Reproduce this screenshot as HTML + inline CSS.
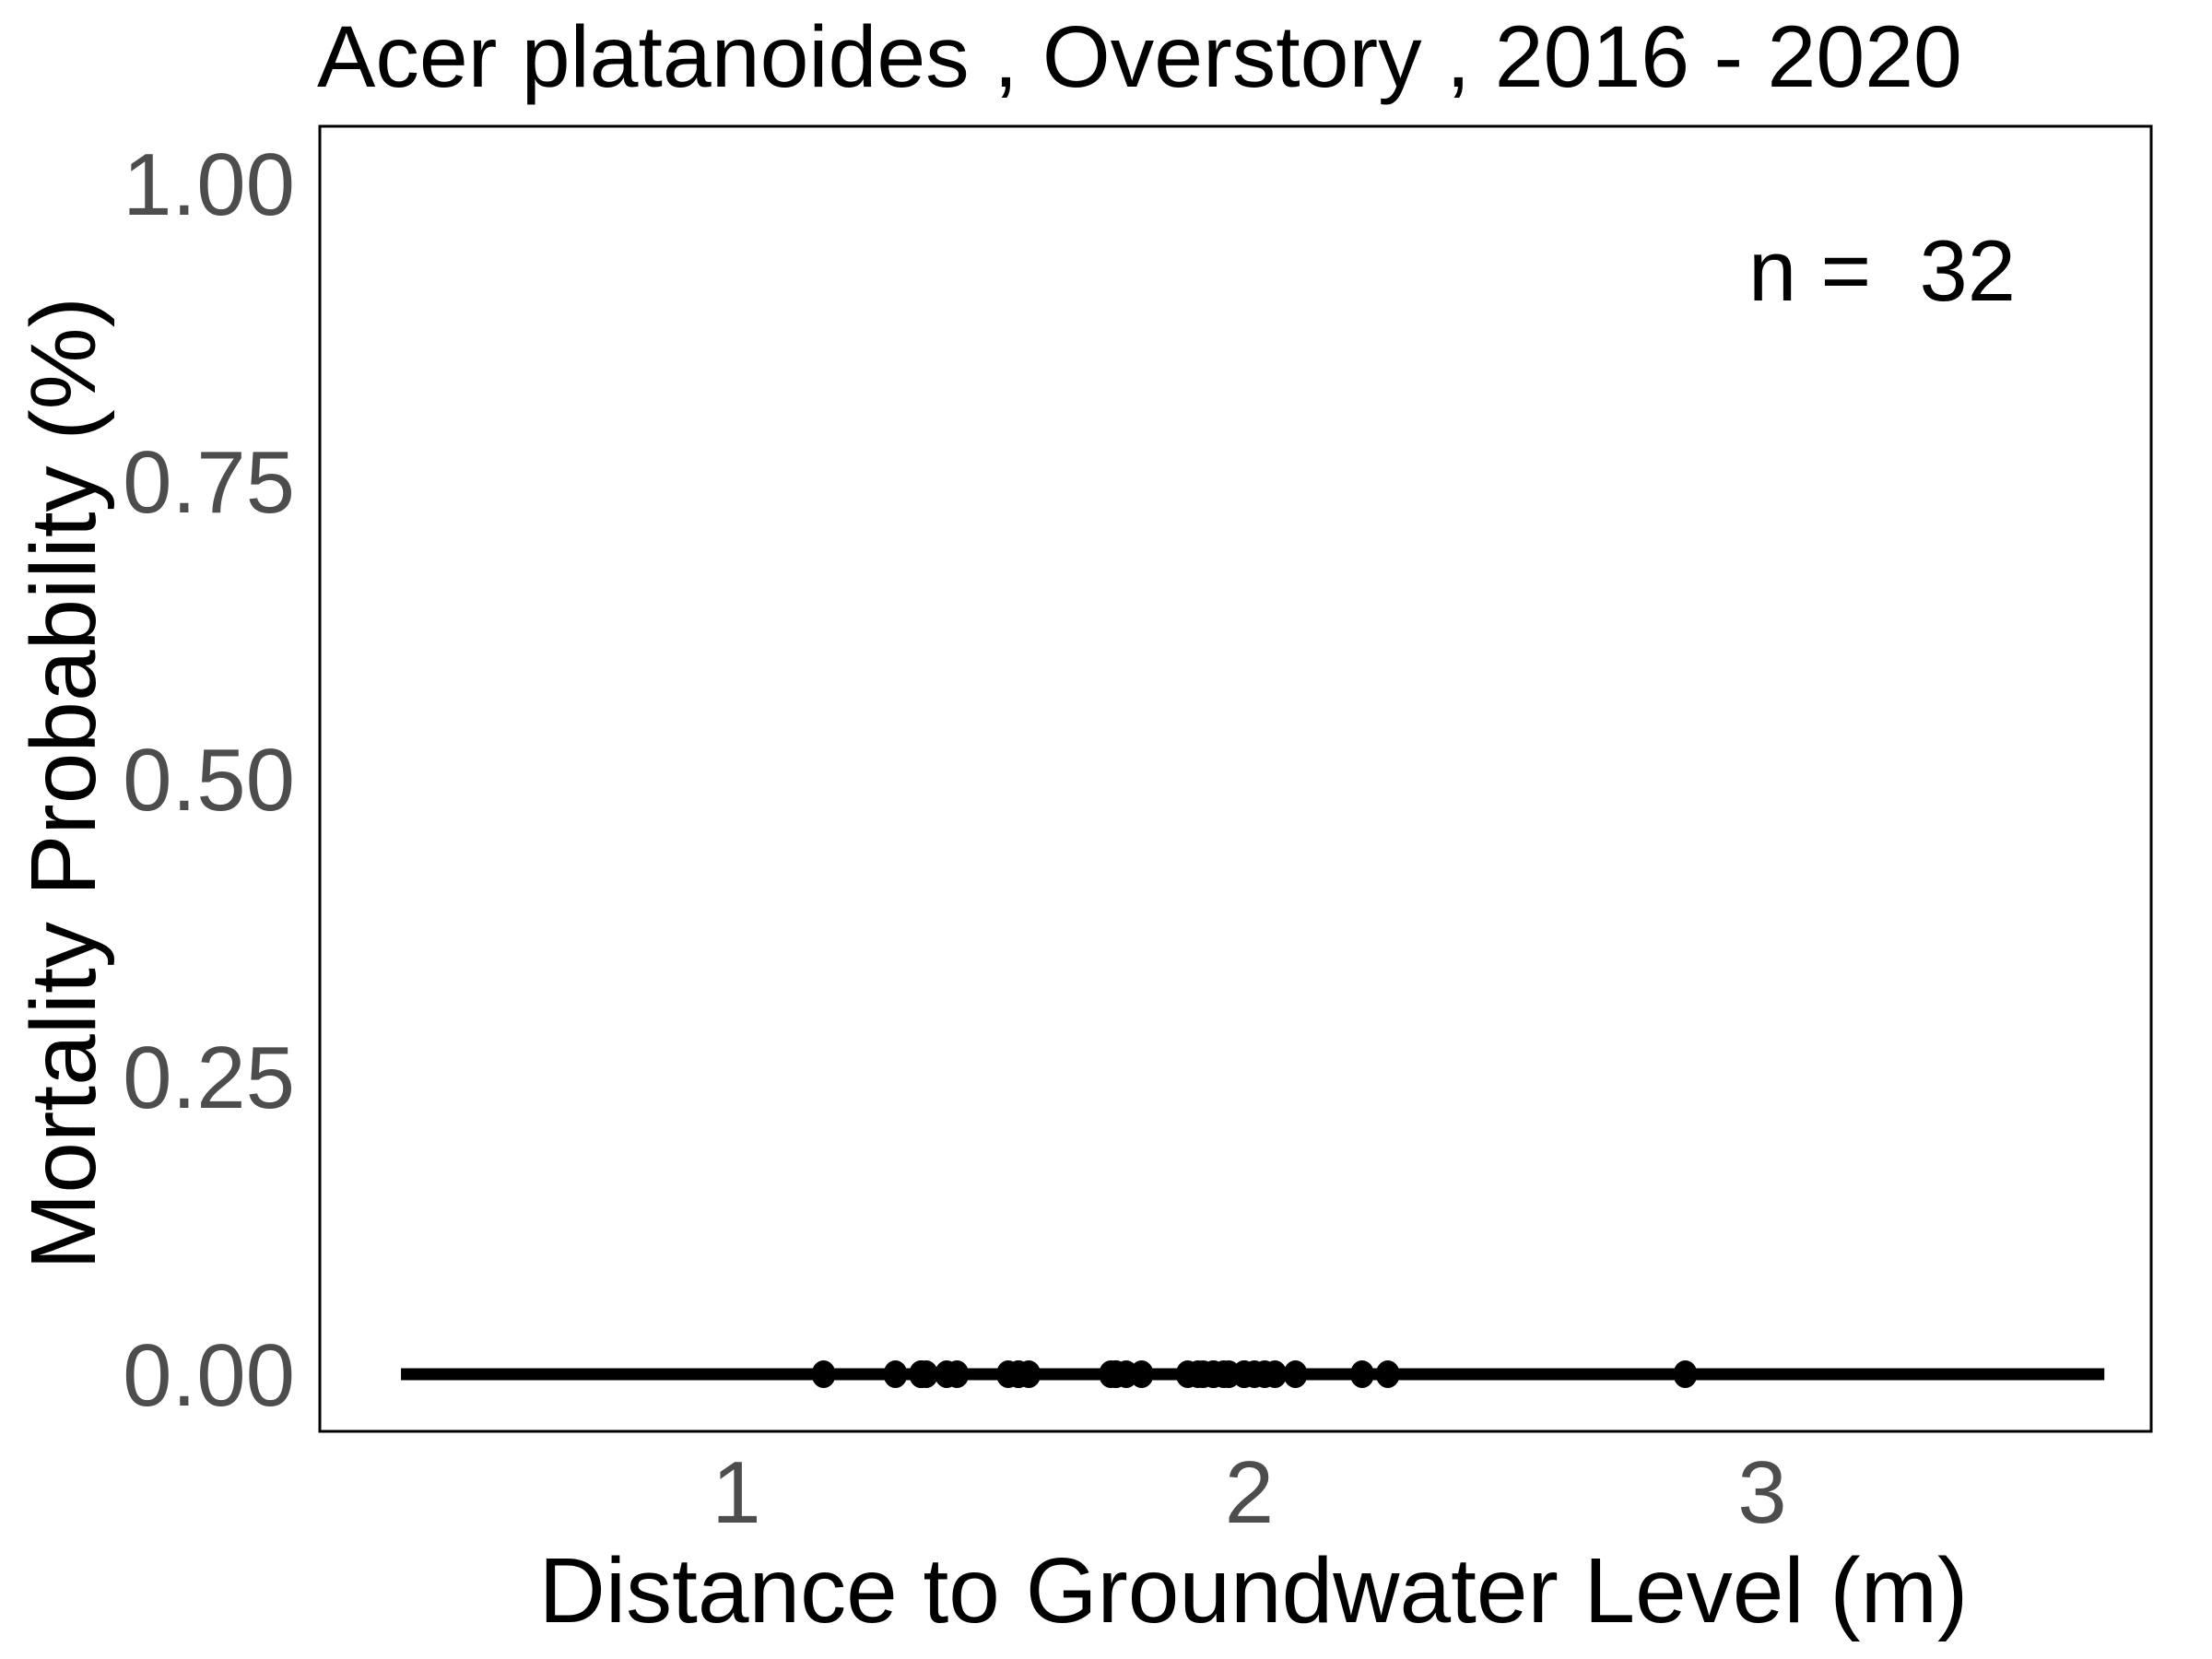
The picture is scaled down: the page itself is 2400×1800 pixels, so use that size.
<!DOCTYPE html>
<html><head><meta charset="utf-8"><style>
html,body{margin:0;padding:0;background:#fff;}
svg{display:block;font-family:"Liberation Sans",Arial,sans-serif;}
</style></head><body>
<svg id="chart" width="2400" height="1800" viewBox="0 0 2400 1800">
<text x="344" y="94" font-size="95" fill="#000">Acer platanoides , Overstory , 2016 - 2020</text>
<rect x="347" y="137" width="1987" height="1416" fill="none" stroke="#000" stroke-width="3"/>
<g id="yticks"></g>
<g id="xticks"></g>
<g id="marks"></g>
<text x="1897" y="326" font-size="94" fill="#000" style="white-space:pre" xml:space="preserve">n =  32</text>
<text x="1360" y="1760" font-size="100" fill="#000" text-anchor="middle">Distance to Groundwater Level (m)</text>
<text transform="translate(103,850) rotate(-90)" font-size="100" fill="#000" text-anchor="middle">Mortality Probability (%)</text>
</svg>
<script>
const yTickValues = [0, 0.25, 0.5, 0.75, 1];
const yTickLabels = ["0.00", "0.25", "0.50", "0.75", "1.00"];
const xTickValues = [1, 2, 3];
const xTickLabels = ["1", "2", "3"];
const curveX = [0.346, 3.667];
const curveY = [0, 0];
const pointX = [1.17,1.31,1.36,1.36,1.37,1.41,1.43,1.53,1.55,1.55,1.57,1.73,1.74,1.74,1.76,1.79,1.88,1.90,1.91,1.93,1.93,1.95,1.96,1.99,1.99,2.01,2.03,2.05,2.09,2.22,2.27,2.85];
const pointY = [0,0,0,0,0,0,0,0,0,0,0,0,0,0,0,0,0,0,0,0,0,0,0,0,0,0,0,0,0,0,0,0];

const NS = "http://www.w3.org/2000/svg";
function xs(v){ return 799 + (v - 1) * 556.5; }
function ys(v){ return 1491 - v * 1292; }

const yg = document.getElementById('yticks');
yTickValues.forEach((v,i)=>{
  const t = document.createElementNS(NS,'text');
  t.setAttribute('x', 320); t.setAttribute('y', ys(v) + 34);
  t.setAttribute('font-size', 96); t.setAttribute('fill', '#4d4d4d');
  t.setAttribute('text-anchor', 'end');
  t.textContent = yTickLabels[i];
  
  
  yg.appendChild(t);
});
const xg = document.getElementById('xticks');
xTickValues.forEach((v,i)=>{
  const t = document.createElementNS(NS,'text');
  t.setAttribute('x', xs(v)); t.setAttribute('y', 1652);
  t.setAttribute('font-size', 96); t.setAttribute('fill', '#4d4d4d');
  t.setAttribute('text-anchor', 'middle');
  t.textContent = xTickLabels[i];
  
  
  xg.appendChild(t);
});
const mg = document.getElementById('marks');
const line = document.createElementNS(NS,'polyline');
line.setAttribute('points', curveX.map((x,i)=>xs(x)+','+ys(curveY[i])).join(' '));
line.setAttribute('fill','none'); line.setAttribute('stroke','#000'); line.setAttribute('stroke-width','13');


mg.appendChild(line);
pointX.forEach((x,i)=>{
  const c = document.createElementNS(NS,'ellipse');
  c.setAttribute('cx', xs(x)); c.setAttribute('cy', ys(pointY[i]));
  c.setAttribute('rx', 13); c.setAttribute('ry', 15); c.setAttribute('fill', '#000');
  
  
  mg.appendChild(c);
});
</script>
</body></html>
